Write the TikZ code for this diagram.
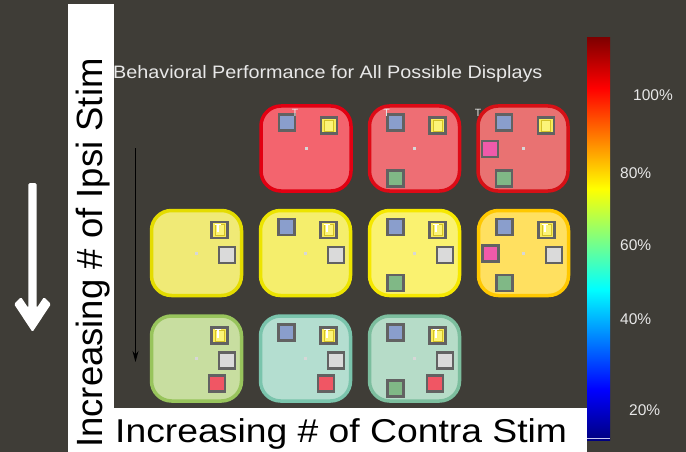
\documentclass[tikz,border=0pt]{standalone}
\usepackage{fontspec}
\setmainfont{Liberation Sans}
\usetikzlibrary{arrows.meta}

% page and label colours
\definecolor{bgdark}{RGB}{63,61,55}
\definecolor{labelgray}{RGB}{232,232,232}
\definecolor{barfoot}{RGB}{200,200,240}
% colour bar (jet)
\definecolor{jetlow}{rgb}{0,0,0.5}
\definecolor{jetblue}{rgb}{0,0,1}
\definecolor{jetcyan}{rgb}{0,1,1}
\definecolor{jetyellow}{rgb}{1,1,0}
\definecolor{jetred}{rgb}{1,0,0}
\definecolor{jethigh}{rgb}{0.5,0,0}
\pgfdeclareverticalshading{jetbar}{100bp}{%
  color(0bp)=(jetlow); color(25bp)=(jetlow); color(31.25bp)=(jetblue);
  color(43.75bp)=(jetcyan); color(56.25bp)=(jetyellow);
  color(68.75bp)=(jetred); color(75bp)=(jethigh); color(100bp)=(jethigh)}
% display panels: fill / rim
\definecolor{fA1}{RGB}{243,100,110}\definecolor{rA1}{RGB}{226,0,18}
\definecolor{fA2}{RGB}{238,110,116}\definecolor{rA2}{RGB}{222,10,22}
\definecolor{fA3}{RGB}{233,114,114}\definecolor{rA3}{RGB}{214,16,22}
\definecolor{fB1}{RGB}{240,234,118}\definecolor{rB1}{RGB}{228,220,0}
\definecolor{fB2}{RGB}{245,238,108}\definecolor{rB2}{RGB}{236,228,0}
\definecolor{fB3}{RGB}{250,242,112}\definecolor{rB3}{RGB}{246,232,0}
\definecolor{fB4}{RGB}{255,224,96}\definecolor{rB4}{RGB}{255,200,0}
\definecolor{fC1}{RGB}{200,222,160}\definecolor{rC1}{RGB}{152,196,92}
\definecolor{fC2}{RGB}{180,222,208}\definecolor{rC2}{RGB}{122,196,172}
\definecolor{fC3}{RGB}{182,220,200}\definecolor{rC3}{RGB}{124,190,158}
% stimulus squares
\definecolor{stimedge}{RGB}{98,98,98}
\definecolor{stimblue}{RGB}{138,158,204}
\definecolor{stimyellow}{RGB}{250,236,90}
\definecolor{stimyellowin}{RGB}{252,244,120}
\definecolor{yellowrim}{RGB}{212,194,40}
\definecolor{stimgray}{RGB}{218,218,218}
\definecolor{stimgreen}{RGB}{128,184,134}
\definecolor{stimpink}{RGB}{240,90,170}
\definecolor{stimred}{RGB}{240,86,100}
\definecolor{dotgray}{RGB}{215,215,215}

% stimulus placements around a panel centre
\newcommand\sblue[1]{\node[stimbox, fill=stimblue] (#1b) at ([shift={(-19,-26)}]#1.center) {};}
\newcommand\sgreen[1]{\node[stimbox, fill=stimgreen] (#1g) at ([shift={(-19,30)}]#1.center) {};}
\newcommand\spink[1]{\node[stimbox, fill=stimpink] (#1p) at ([shift={(-33,0.5)}]#1.center) {};}
\newcommand\sgray[1]{\node[stimbox, fill=stimgray] (#1w) at ([shift={(30.5,2)}]#1.center) {};}
\newcommand\sred[1]{\node[stimbox, fill=stimred] (#1r) at ([shift={(20.5,25)}]#1.center) {};}
\newcommand\syellow[1]{%
  \node[stimbox, fill=stimyellow] (#1y) at ([shift={(23,-23)}]#1.center) {};
  \node[yinner] (#1yi) at (#1y.center) {};}
\newcommand\syellowT[1]{%
  \syellow{#1}
  \draw[white, line width=1.1pt] (#1yi.north west) -- ([xshift=1pt]#1yi.north);
  \draw[white, line width=1.1pt] ([xshift=-1.5pt]#1yi.north) -- ([xshift=-1.5pt,yshift=-8pt]#1yi.north);}
\newcommand\centremark[1]{\node[dotmark] (#1c) at (#1.center) {};}

\begin{document}
\begin{tikzpicture}[x=1pt,y=-1pt,
  panelbox/.style={draw, rounded corners=20pt, line width=3.5pt,
    minimum width=90pt, minimum height=85pt, inner sep=0pt},
  stimbox/.style={draw=stimedge, line width=2.6pt, minimum size=16pt, inner sep=0pt},
  yinner/.style={draw=yellowrim, fill=stimyellowin, line width=0.9pt,
    minimum width=9pt, minimum height=11pt, inner sep=0pt},
  dotmark/.style={fill=dotgray, minimum size=3pt, inner sep=0pt},
  tlabel/.style={text=labelgray, font=\fontsize{10.5}{12}\selectfont, inner sep=0pt},
  pctlabel/.style={text=labelgray, font=\fontsize{15.5}{18}\selectfont, inner sep=0pt, anchor=west}]

\useasboundingbox (0,0) rectangle (686,452);
\fill[bgdark] (0,0) rectangle (686,452);

% white label strips
\fill[white] (68,4) rectangle (114,452);
\fill[white] (114,408) rectangle (587,452);

% axis labels
\node[rotate=90, anchor=base west, inner sep=0pt,
  font=\fontsize{36.5}{40}\selectfont] (ipsi) at (102,448) {Increasing \# of Ipsi Stim};
\node[anchor=base west, inner sep=0pt, xscale=1.13,
  font=\fontsize{33}{38}\selectfont] (contra) at (115,442) {Increasing \# of Contra Stim};
\node[anchor=base west, inner sep=0pt, text=labelgray, xscale=1.1,
  font=\fontsize{18}{20}\selectfont] (title) at (113,79) {Behavioral Performance for All Possible Displays};

% big white arrow (shaft and open head as one outline)
\coordinate (wtop) at (32.5,183);
\coordinate (wtip) at (32.5,332);
\fill[white, rounded corners=1.5pt]
  ([xshift=-4.2pt]wtop) -- ([xshift=4.2pt]wtop) -- (36.7,308) -- (44,297) -- (51,304)
  -- (wtip) -- (14,304) -- (21,297) -- (28.3,308) -- cycle;

% thin black arrow
\coordinate (btop) at (135.5,148);
\coordinate (bbot) at (135.5,362);
\draw[black, line width=1pt, -{Stealth[length=11pt,width=6pt]}] (btop) -- (bbot);

% colour bar
\shade[shading=jetbar] (587,38) rectangle (610,440);
\draw[barfoot, line width=1.2pt] (587,438.5) -- (610,438.5);
\node[pctlabel] (l100) at (633,95) {100\%};
\node[pctlabel] (l80) at (620,173) {80\%};
\node[pctlabel] (l60) at (620,245) {60\%};
\node[pctlabel] (l40) at (620,319) {40\%};
\node[pctlabel] (l20) at (629,410) {20\%};

% row 1
\node[panelbox, fill=fA1, draw=rA1] (A2) at (306,148.5) {};
\node[panelbox, fill=fA2, draw=rA2] (A3) at (414.5,148.5) {};
\node[panelbox, fill=fA3, draw=rA3] (A4) at (523,148.5) {};
% row 2
\node[panelbox, fill=fB1, draw=rB1] (B1) at (196.5,253) {};
\node[panelbox, fill=fB2, draw=rB2] (B2) at (305.5,253) {};
\node[panelbox, fill=fB3, draw=rB3] (B3) at (414.5,253) {};
\node[panelbox, fill=fB4, draw=rB4] (B4) at (523.5,253) {};
% row 3
\node[panelbox, fill=fC1, draw=rC1] (C1) at (196.5,358.5) {};
\node[panelbox, fill=fC2, draw=rC2] (C2) at (305.5,358.5) {};
\node[panelbox, fill=fC3, draw=rC3] (C3) at (414.5,358.5) {};

% centre marks
\centremark{A2}\centremark{A3}\centremark{A4}
\centremark{B1}\centremark{B2}\centremark{B3}\centremark{B4}
\centremark{C1}\centremark{C2}\centremark{C3}

% stimuli, row 1
\sblue{A2}\syellow{A2}
\sblue{A3}\syellow{A3}\sgreen{A3}
\sblue{A4}\syellow{A4}\spink{A4}\sgreen{A4}
\node[tlabel] (tA2) at (295,113) {T};
\node[tlabel] (tA3) at (386.5,113) {T};
\node[tlabel] (tA4) at (478,113) {T};
% stimuli, row 2
\syellowT{B1}\sgray{B1}
\sblue{B2}\syellowT{B2}\sgray{B2}
\sblue{B3}\syellowT{B3}\sgray{B3}\sgreen{B3}
\sblue{B4}\syellowT{B4}\spink{B4}\sgray{B4}\sgreen{B4}
% stimuli, row 3
\syellowT{C1}\sgray{C1}\sred{C1}
\sblue{C2}\syellowT{C2}\sgray{C2}\sred{C2}
\sblue{C3}\syellowT{C3}\sgray{C3}\sgreen{C3}\sred{C3}
\end{tikzpicture}
\end{document}
